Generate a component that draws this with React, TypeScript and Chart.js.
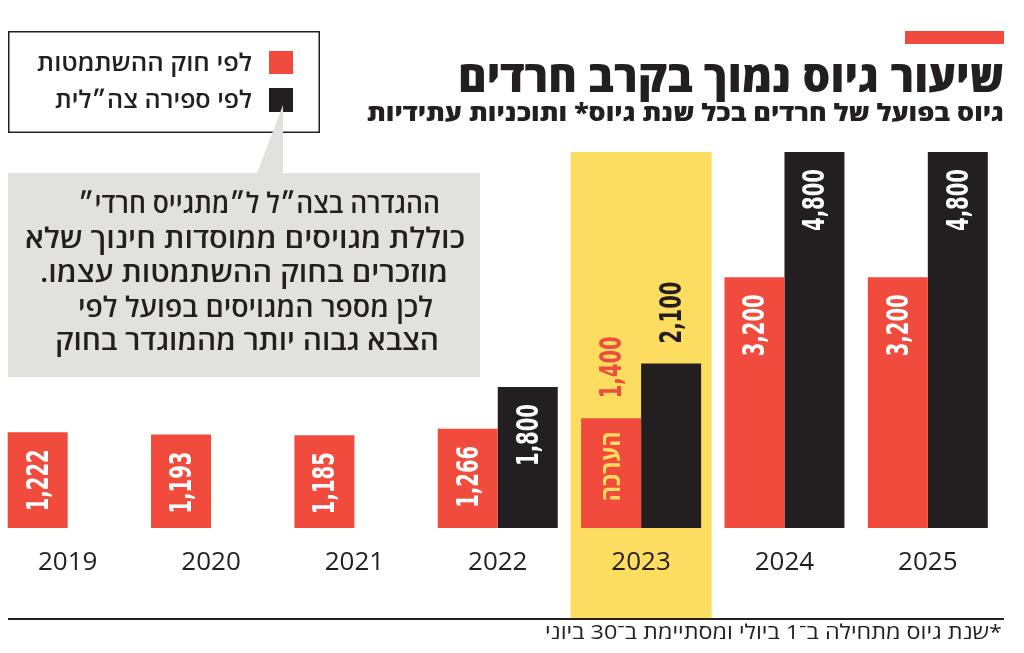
import React, { useEffect, useRef } from 'react';
import { Chart, registerables } from 'chart.js';

Chart.register(...registerables);

// ---------- data ----------
const categories = ['2019', '2020', '2021', '2022', '2023', '2024', '2025'];
const lawValues: (number | null)[] = [1222, 1193, 1185, 1266, 1400, 3200, 3200];
const idfValues: (number | null)[] = [null, null, null, 1800, 2100, 4800, 4800];
const estimateFlags = [false, false, false, false, true, false, false];
const seriesNames = ['לפי חוק ההשתמטות', 'לפי ספירה צה״לית'];
const highlightYear = '2023';
const estimateText = 'הערכה';
const titleText = 'שיעור גיוס נמוך בקרב חרדים';
const subtitleText = 'גיוס בפועל של חרדים בכל שנת גיוס* ותוכניות עתידיות';
const calloutLines = [
  'ההגדרה בצה״ל ל״מתגייס חרדי״',
  'כוללת מגויסים ממוסדות חינוך שלא',
  'מוזכרים בחוק ההשתמטות עצמו.',
  'לכן מספר המגויסים בפועל לפי',
  'הצבא גבוה יותר מהמוגדר בחוק',
];
const footnoteText = '*שנת גיוס מתחילה ב־1 ביולי ומסתיימת ב־30 ביוני';

// ---------- styles ----------
const RED = '#f04b3c';
const BLACK = '#231f20';
const YELLOW = '#fcdd5f';
const GREY = '#e1e1dd';
const FOOT_LINE_Y = 619;
const HEB = '"Open Sans", "Liberation Sans", "DejaVu Sans", sans-serif';
const DIGITS = '"Liberation Sans Narrow", "DejaVu Sans Condensed", "Roboto Condensed", sans-serif';
const LABEL_LEN = 62;
const EST_LEN = 70;

const highlightPlugin = {
  id: 'highlight',
  beforeDraw(chart: any) {
    const { ctx, chartArea } = chart;
    const xs = chart.scales.x;
    const idx = categories.indexOf(highlightYear);
    if (idx < 0) return;
    const step = (chartArea.right - chartArea.left) / categories.length;
    const cx = xs.getPixelForValue(idx);
    const w = step * 0.984;
    ctx.save();
    ctx.fillStyle = YELLOW;
    ctx.fillRect(cx - w / 2, chartArea.top, w, FOOT_LINE_Y - chartArea.top);
    ctx.restore();
  },
};

const labelPlugin = {
  id: 'barLabels',
  afterDatasetsDraw(chart: any) {
    const { ctx } = chart;
    ctx.save();
    ctx.font = `bold 30px ${DIGITS}`;
    const s = Math.min(1.2, LABEL_LEN / ctx.measureText('0,000').width);
    chart.data.datasets.forEach((ds: any, di: number) => {
      const meta = chart.getDatasetMeta(di);
      meta.data.forEach((el: any, i: number) => {
        const v = ds.data[i];
        if (v == null) return;
        const { x, y } = el.getProps(['x', 'y'], true);
        const text = Number(v).toLocaleString('en-US');
        const est = estimateFlags[i];
        ctx.save();
        ctx.translate(x, est ? y - 20 : y + 17);
        ctx.rotate(-Math.PI / 2);
        ctx.scale(s, 1);
        ctx.font = `bold 30px ${DIGITS}`;
        ctx.textBaseline = 'alphabetic';
        ctx.textAlign = est ? 'left' : 'right';
        ctx.fillStyle = est ? ds.backgroundColor : '#ffffff';
        ctx.fillText(text, 0, 10);
        ctx.restore();
        if (est && di === 0) {
          ctx.save();
          ctx.translate(x, y + 13);
          ctx.rotate(-Math.PI / 2);
          ctx.font = `bold 26px ${HEB}`;
          const es = EST_LEN / ctx.measureText(estimateText).width;
          ctx.scale(es, 1);
          ctx.direction = 'rtl';
          ctx.textAlign = 'right';
          ctx.textBaseline = 'alphabetic';
          ctx.fillStyle = YELLOW;
          ctx.fillText(estimateText, 0, 9);
          ctx.restore();
        }
      });
    });
    ctx.restore();
  },
};

function SvgText(props: {
  text: string; left: number; right: number; baseline: number;
  size: number; weight: number | string; color?: string;
}) {
  const { text, left, right, baseline, size, weight, color } = props;
  return (
    <text
      x={(left + right) / 2}
      y={baseline}
      textAnchor="middle"
      direction="rtl"
      textLength={right - left}
      lengthAdjust="spacingAndGlyphs"
      style={{ fontFamily: HEB, fontSize: size, fontWeight: weight as any, fill: color || BLACK }}
    >
      {text}
    </text>
  );
}

export default function App() {
  const ref = useRef<HTMLCanvasElement>(null);

  useEffect(() => {
    document.body.style.margin = '0';
    document.body.style.overflow = 'hidden';
    const chart = new Chart(ref.current as HTMLCanvasElement, {
      type: 'bar',
      data: {
        labels: categories,
        datasets: [
          {
            label: seriesNames[0],
            data: lawValues as any,
            backgroundColor: RED,
            borderWidth: 0,
            categoryPercentage: 0.837,
            barPercentage: 1,
          },
          {
            label: seriesNames[1],
            data: idfValues as any,
            backgroundColor: BLACK,
            borderWidth: 0,
            categoryPercentage: 0.837,
            barPercentage: 1,
          },
        ],
      },
      options: {
        animation: false,
        responsive: true,
        maintainAspectRatio: false,
        layout: { padding: { left: 0, right: 24.5, top: 152, bottom: 55.8 } },
        plugins: { legend: { display: false }, tooltip: { enabled: false } },
        scales: {
          x: {
            grid: { display: false, drawTicks: false },
            border: { display: false },
            ticks: {
              color: BLACK,
              padding: 19,
              font: { family: '"Open Sans", "Noto Sans", sans-serif', size: 26 },
            },
          },
          y: { display: false, min: 0, max: 4800 },
        },
      },
      plugins: [highlightPlugin, labelPlugin],
    });
    return () => chart.destroy();
  }, []);

  return (
    <div style={{ position: 'absolute', left: 0, top: 0, width: 1024, height: 653, background: '#fff', overflow: 'hidden' }}>
      <div style={{ position: 'absolute', left: -4, top: 0, width: 1028, height: 653 }}>
        <canvas ref={ref} />
      </div>
      <svg
        width={1024}
        height={653}
        style={{ position: 'absolute', left: 0, top: 0, pointerEvents: 'none' }}
      >
        {/* title block */}
        <rect x={905} y={31} width={99} height={13} fill={RED} />
        <SvgText text={titleText} left={458} right={1004} baseline={92} size={43} weight={800} />
        <SvgText text={subtitleText} left={367} right={1004} baseline={121} size={24} weight={800} />

        {/* legend */}
        <rect x={8.75} y={31.75} width={310.5} height={100.5} fill="#fff" stroke={BLACK} strokeWidth={1.5} />
        <rect x={269} y={51} width={24} height={23} fill={RED} />
        <rect x={269} y={88} width={24} height={24} fill={BLACK} />
        <SvgText text={seriesNames[0]} left={37} right={252} baseline={71} size={24} weight={600} />
        <SvgText text={seriesNames[1]} left={55} right={252} baseline={108} size={24} weight={600} />

        {/* callout */}
        <path d="M8 173 H257 L283 105 L283 173 H480 V377 H8 Z" fill={GREY} />
        <SvgText text={calloutLines[0]} left={78} right={440} baseline={213} size={28} weight={600} />
        <SvgText text={calloutLines[1]} left={25} right={465} baseline={248} size={28} weight={600} />
        <SvgText text={calloutLines[2]} left={40} right={448} baseline={282} size={28} weight={600} />
        <SvgText text={calloutLines[3]} left={78} right={433} baseline={317} size={28} weight={600} />
        <SvgText text={calloutLines[4]} left={55} right={439} baseline={350} size={28} weight={600} />

        {/* footer */}
        <line x1={8} y1={FOOT_LINE_Y} x2={1004} y2={FOOT_LINE_Y} stroke={BLACK} strokeWidth={2} />
        <SvgText text={footnoteText} left={545} right={1002} baseline={639} size={20} weight={400} />
      </svg>
    </div>
  );
}
